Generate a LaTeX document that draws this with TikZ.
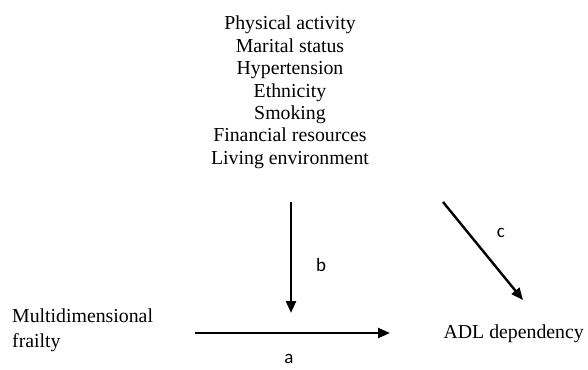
\documentclass[tikz,border=0pt]{standalone}
\usepackage{fontspec}
\setmainfont{Liberation Serif}
\newfontfamily\labelfont{Carlito}
\usetikzlibrary{arrows.meta,positioning}

\begin{document}
\begin{tikzpicture}[x=1pt,y=-1pt,
    arr/.style={line width=2.4pt, -{Triangle[length=12pt,width=10pt]}},
    txt/.style={font=\fontsize{19.8}{22.4}\selectfont, inner sep=0pt},
    lbl/.style={font=\labelfont\fontsize{19}{22}\selectfont, inner sep=0pt}]
    \useasboundingbox (0,0) rectangle (588,369);

    % Moderators
    \node[txt, align=center, anchor=north] (mods) at (290,16)
        {Physical activity\\Marital status\\Hypertension\\Ethnicity\\Smoking\\Financial resources\\Living environment};

    % Exposure and outcome
    \node[txt, align=left, anchor=north west, font=\fontsize{19.8}{25}\selectfont] (frailty) at (12,309)
        {Multidimensional\\frailty};
    \node[txt, anchor=base east] (adl) at (584,338.5) {ADL dependency};

    % Arrow ends
    \coordinate (aStart) at (195,333);
    \coordinate (aEnd) at (390,333);
    \coordinate (bStart) at (291,202);
    \coordinate (bEnd) at (291,313);
    \coordinate (cStart) at (443,202);
    \coordinate (cEnd) at (523,300);

    \draw[arr] (aStart) -- (aEnd);
    \draw[arr] (bStart) -- (bEnd);
    \draw[arr] (cStart) -- (cEnd);

    % Path labels
    \node[lbl, anchor=south] (la) at (289,364) {a};
    \node[lbl] (lb) at (321,265) {b};
    \node[lbl] (lc) at (501,233) {c};
\end{tikzpicture}
\end{document}
